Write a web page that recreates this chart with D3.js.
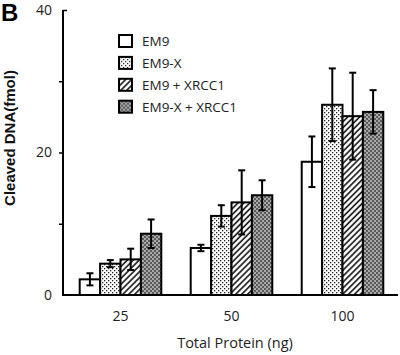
<!DOCTYPE html>
<html>
<head>
<meta charset="utf-8">
<script src="https://cdn.jsdelivr.net/npm/d3@7"></script>
<style>
  html, body { margin: 0; padding: 0; background: #fff; }
  svg { display: block; }
</style>
</head>
<body>
<svg id="chart" width="400" height="355"></svg>
<script>
// ---- data ----
const groups = ["25", "50", "100"];
const seriesNames = ["EM9", "EM9-X", "EM9 + XRCC1", "EM9-X + XRCC1"];
const em9      = [2.2, 6.6, 18.7];
const em9x     = [4.4, 11.1, 26.7];
const em9xrcc  = [5.0, 13.0, 25.1];
const em9xXrcc = [8.6, 14.0, 25.7];
const em9Err      = [0.85, 0.45, 3.55];
const em9xErr     = [0.5, 1.5, 5.1];
const em9xrccErr  = [1.5, 4.5, 6.1];
const em9xXrccErr = [2.0, 2.1, 3.05];
const yTicks = [0, 10, 20, 30, 40];
const yTickLabels = ["0", "", "20", "", "40"];

const seriesValues = [em9, em9x, em9xrcc, em9xXrcc];
const seriesErrors = [em9Err, em9xErr, em9xrccErr, em9xXrccErr];
const fills = ["#fff", "url(#dots)", "url(#hatch)", "url(#checker)"];

const svg = d3.select("#chart");
const defs = svg.append("defs");

// patterns
const pDots = defs.append("pattern").attr("id", "dots").attr("patternUnits", "userSpaceOnUse")
  .attr("width", 4).attr("height", 4);
pDots.append("rect").attr("width", 4).attr("height", 4).attr("fill", "#fff");
pDots.append("rect").attr("x", 0).attr("y", 0).attr("width", 1.3).attr("height", 1.3).attr("fill", "#222");
pDots.append("rect").attr("x", 2).attr("y", 2).attr("width", 1.3).attr("height", 1.3).attr("fill", "#222");

const pHatch = defs.append("pattern").attr("id", "hatch").attr("patternUnits", "userSpaceOnUse")
  .attr("width", 4.2).attr("height", 4.2).attr("patternTransform", "rotate(45)");
pHatch.append("rect").attr("width", 4.2).attr("height", 4.2).attr("fill", "#fff");
pHatch.append("line").attr("x1", 1).attr("x2", 1).attr("y1", 0).attr("y2", 4.2)
  .attr("stroke", "#111").attr("stroke-width", 1.6);

const pCheck = defs.append("pattern").attr("id", "checker").attr("patternUnits", "userSpaceOnUse")
  .attr("width", 4).attr("height", 4);
pCheck.append("rect").attr("width", 4).attr("height", 4).attr("fill", "#a8a8a8");
pCheck.append("rect").attr("x", 0).attr("y", 0).attr("width", 2).attr("height", 2).attr("fill", "#5a5a5a");
pCheck.append("rect").attr("x", 2).attr("y", 2).attr("width", 2).attr("height", 2).attr("fill", "#5a5a5a");

// scales
const x0 = d3.scaleBand().domain(groups).range([65, 398]).paddingInner(0.265).paddingOuter(0.1325);
const x1 = d3.scaleBand().domain(d3.range(seriesNames.length)).range([0, x0.bandwidth()]);
const y = d3.scaleLinear().domain([0, 40]).range([295, 10]);
const axisX = 63;

const font = "'Open Sans', 'Liberation Sans', sans-serif";

// bars
const rows = [];
groups.forEach((g, gi) => seriesNames.forEach((s, si) => rows.push({
  g, si, v: seriesValues[si][gi], e: seriesErrors[si][gi]
})));

svg.append("g").selectAll("rect").data(rows).join("rect")
  .attr("x", d => x0(d.g) + x1(d.si))
  .attr("y", d => y(d.v))
  .attr("width", x1.bandwidth())
  .attr("height", d => y(0) - y(d.v))
  .attr("fill", d => fills[d.si])
  .attr("stroke", "#000").attr("stroke-width", 2);

// error bars
const eb = svg.append("g").attr("stroke", "#000").attr("stroke-width", 2);
rows.forEach(d => {
  const cx = x0(d.g) + x1(d.si) + x1.bandwidth() / 2;
  eb.append("line").attr("x1", cx).attr("x2", cx).attr("y1", y(d.v + d.e)).attr("y2", y(d.v - d.e));
  eb.append("line").attr("x1", cx - 3.5).attr("x2", cx + 3.5).attr("y1", y(d.v + d.e)).attr("y2", y(d.v + d.e));
  eb.append("line").attr("x1", cx - 3.5).attr("x2", cx + 3.5).attr("y1", y(d.v - d.e)).attr("y2", y(d.v - d.e));
});

// y axis
const yAxis = svg.append("g").attr("transform", `translate(${axisX},0)`)
  .call(d3.axisLeft(y).tickValues(yTicks).tickSize(4).tickPadding(7)
    .tickFormat((d, i) => yTickLabels[i]));
yAxis.select(".domain").remove();
yAxis.selectAll(".tick line").attr("stroke-width", 1.5)
  .filter(d => d === 0).remove();
yAxis.selectAll(".tick line").filter(d => d === 40).attr("x2", 4);
yAxis.selectAll(".tick text").attr("font-family", font).attr("font-size", 14).attr("fill", "#222");
svg.append("line").attr("x1", axisX).attr("x2", axisX).attr("y1", y(40)).attr("y2", y(0) + 1)
  .attr("stroke", "#000").attr("stroke-width", 2);

// x axis
const xAxis = svg.append("g").attr("transform", `translate(0,${y(0)})`)
  .call(d3.axisBottom(x0).tickSize(0).tickPadding(16));
xAxis.select(".domain").remove();
xAxis.selectAll(".tick text").attr("font-family", font).attr("font-size", 14).attr("fill", "#222");
svg.append("line").attr("x1", axisX - 1).attr("x2", 398).attr("y1", y(0)).attr("y2", y(0))
  .attr("stroke", "#000").attr("stroke-width", 2);

// axis titles
svg.append("text").attr("x", 235).attr("y", 348).attr("text-anchor", "middle")
  .attr("font-family", font).attr("font-size", 14.5).attr("fill", "#222").text("Total Protein (ng)");
svg.append("text").attr("transform", "translate(15,138) rotate(-90)").attr("text-anchor", "middle")
  .attr("font-family", "'Liberation Sans', Arial, sans-serif").attr("font-weight", "bold")
  .attr("font-size", 15).attr("fill", "#111").text("Cleaved DNA(fmol)");

// panel letter
svg.append("text").attr("x", 1).attr("y", 21)
  .attr("font-family", "'Liberation Sans', Arial, sans-serif").attr("font-weight", "bold")
  .attr("font-size", 24).attr("fill", "#000").text("B");

// legend
const legend = svg.append("g").selectAll("g").data(seriesNames).join("g")
  .attr("transform", (d, i) => `translate(119,${41 + i * 21.9})`);
legend.append("rect").attr("x", 0).attr("y", -6).attr("width", 13).attr("height", 12)
  .attr("fill", (d, i) => fills[i]).attr("stroke", "#000").attr("stroke-width", 2);
legend.append("text").attr("x", 23).attr("y", 0).attr("dy", "0.36em")
  .attr("font-family", font).attr("font-size", 13.5).attr("fill", "#222").text(d => d);
</script>
</body>
</html>
